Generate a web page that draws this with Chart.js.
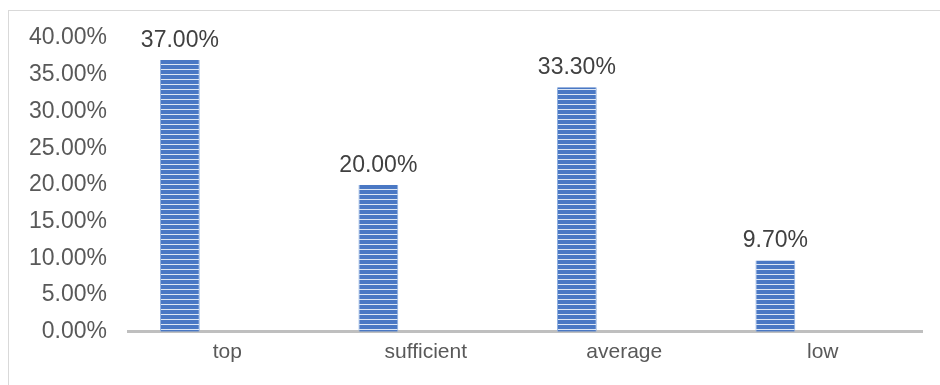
<!DOCTYPE html>
<html>
<head>
<meta charset="utf-8">
<script src="https://cdn.jsdelivr.net/npm/chart.js@4"></script>
<style>
  html, body { margin: 0; padding: 0; background: #ffffff; }
  #wrap { width: 940px; height: 385px; }
</style>
</head>
<body>
<div id="wrap"><canvas id="level-chart" width="940" height="385"></canvas></div>
<script>
var category_labels = ['top', 'sufficient', 'average', 'low'];
var share_values = [0.37, 0.20, 0.333, 0.097];
var empty_values = [null, null, null, null];
var y_ticks = [0, 0.05, 0.10, 0.15, 0.20, 0.25, 0.30, 0.35, 0.40];

function stripePattern() {
    var c = document.createElement('canvas');
    c.width = 4;
    c.height = 5;
    var g = c.getContext('2d');
    g.fillStyle = '#4a78c4';
    g.fillRect(0, 0, 4, 5);
    g.fillStyle = '#dde7f5';
    g.fillRect(0, 4, 4, 1);
    return g.createPattern(c, 'repeat');
}

function pct(v) {
    return (v * 100).toFixed(2) + '%';
}

var frameBox = {
    id: 'frameBox',
    beforeDraw: function (chart) {
        var ctx = chart.ctx;
        ctx.save();
        ctx.strokeStyle = '#d9d9d9';
        ctx.lineWidth = 1;
        ctx.strokeRect(8.5, 10.5, 1200, 1200);
        ctx.restore();
    }
};

var valueLabels = {
    id: 'valueLabels',
    afterDatasetsDraw: function (chart) {
        var ctx = chart.ctx;
        var meta = chart.getDatasetMeta(0);
        ctx.save();
        ctx.font = '23px "Liberation Sans", Arial, sans-serif';
        ctx.fillStyle = '#404040';
        ctx.textAlign = 'center';
        ctx.textBaseline = 'bottom';
        for (var i = 0; i < meta.data.length; i++) {
            var bar = meta.data[i];
            ctx.fillText(pct(share_values[i]), bar.x, bar.y - 8);
        }
        ctx.restore();
    }
};

var ctx = document.getElementById('level-chart');
var LevelChart = new Chart(ctx, {
    type: 'bar',
    data: {
        labels: category_labels,
        datasets: [{
            label: 'share',
            data: share_values,
            backgroundColor: stripePattern(),
            borderColor: '#8fb0e0',
            borderWidth: { left: 1, right: 1, top: 0, bottom: 0 },
            borderSkipped: false,
            barPercentage: 0.42,
            categoryPercentage: 0.955
        }, {
            label: 'blank',
            data: empty_values,
            barPercentage: 0.42,
            categoryPercentage: 0.955
        }]
    },
    options: {
        responsive: false,
        animation: false,
        layout: {
            padding: { left: 8, right: 18, top: 38, bottom: 12 }
        },
        plugins: {
            legend: { display: false },
            tooltip: { enabled: false }
        },
        scales: {
            x: {
                grid: { display: false, drawTicks: false },
                border: { display: true, color: '#bfbfbf', width: 3 },
                ticks: {
                    color: '#595959',
                    padding: 8,
                    font: { family: '"Liberation Sans", Arial, sans-serif', size: 21 }
                }
            },
            y: {
                min: 0,
                max: 0.4,
                afterBuildTicks: function (axis) {
                    axis.ticks = y_ticks.map(function (v) { return { value: v }; });
                },
                grid: { display: false, drawTicks: false },
                border: { display: false },
                ticks: {
                    color: '#595959',
                    padding: 21,
                    font: { family: '"Liberation Sans", Arial, sans-serif', size: 23 },
                    callback: function (value) { return pct(value); }
                }
            }
        }
    },
    plugins: [frameBox, valueLabels]
});
</script>
</body>
</html>
